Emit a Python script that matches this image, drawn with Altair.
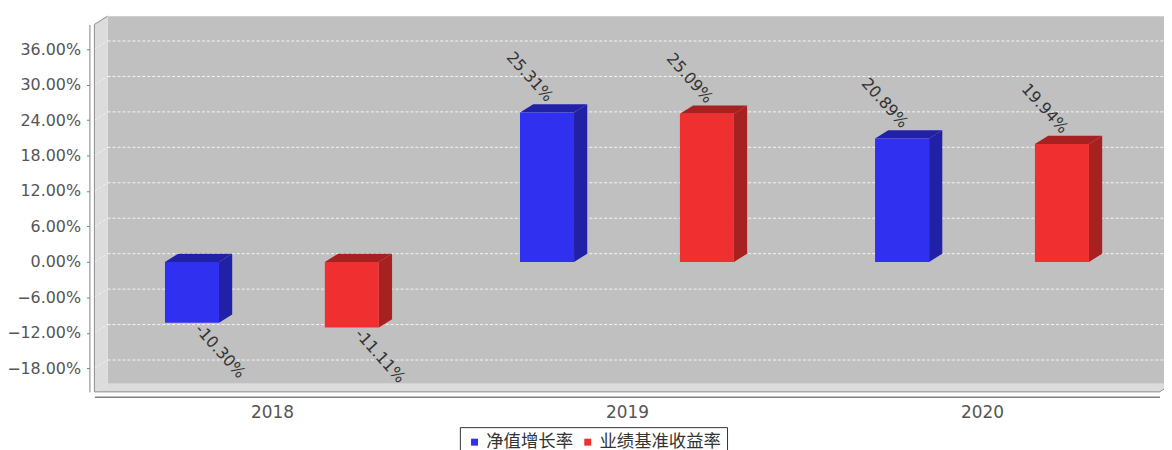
import altair as alt
import pandas as pd

# ---------------- data ----------------
years = ["2018", "2019", "2020"]
series = ["净值增长率", "业绩基准收益率"]
nav_growth = [-10.30, 25.31, 20.89]
benchmark = [-11.11, 25.09, 19.94]
y_ticks = [-18, -12, -6, 0, 6, 12, 18, 24, 30, 36]

front_colors = ["#3030F0", "#F03030"]
dark_colors = ["#2121A8", "#A82121"]

# ---------------- geometry (style) ----------------
W = 1072.5
H = 370
Y_MIN, Y_MAX = -22.0, 40.2
PX_X = W / len(years)
PX_Y = H / (Y_MAX - Y_MIN)
DX = 13.3 / PX_X          # 3D depth in x units
DY = 8.3 / PX_Y           # 3D depth in value units
GROUP_OFF = 80.5 / PX_X
HALF_W = 27.2 / PX_X
X_MAX = len(years)

FONT = "DejaVu Sans"
CJK = "Noto Sans CJK SC"

shade_keys = [s + " (shade)" for s in series]

rows, side_rows, top_rows = [], [], []
for si, (name, vals) in enumerate(zip(series, [nav_growth, benchmark])):
    shade = shade_keys[si]
    for yi, (yr, v) in enumerate(zip(years, vals)):
        xc = yi + 0.5 + (-GROUP_OFF if si == 0 else GROUP_OFF)
        x0, x1 = xc - HALF_W, xc + HALF_W
        top, bot = max(v, 0), min(v, 0)
        bar = f"{yr}-{si}"
        rows.append(dict(series=name, year=yr, bar=bar, value=v,
                         label=f"{v:.2f}%", xc=xc, x0=x0, x1=x1, top=top, bot=bot))
        side_rows += [dict(series=shade, bar=bar, x=x1, y=top, y2=bot),
                      dict(series=shade, bar=bar, x=x1 + DX, y=top + DY, y2=bot + DY)]
        top_rows += [dict(series=shade, bar=bar, y=top, x=x0, x2=x1),
                     dict(series=shade, bar=bar, y=top + DY, x=x0 + DX, x2=x1 + DX)]

bars = pd.DataFrame(rows)
sides = pd.DataFrame(side_rows)
tops = pd.DataFrame(top_rows)

xs = alt.Scale(domain=[0, X_MAX], nice=False, zero=False)
ys = alt.Scale(domain=[Y_MIN, Y_MAX], nice=False, zero=False)
cs = alt.Scale(domain=series + shade_keys, range=front_colors + dark_colors)
legend = alt.Legend(
    values=series, title=None, orient="none", legendX=368, legendY=405.5,
    direction="horizontal", strokeColor="#333333", fillColor="white",
    padding=6, symbolType="square", symbolSize=49, symbolStrokeWidth=0,
    labelFont=CJK, labelFontSize=17.5, labelColor="#333333",
    labelOffset=3, columnPadding=6)


def X(f, **kw):
    return alt.X(f, scale=xs, title=None, **kw)


def Y(f, **kw):
    return alt.Y(f, scale=ys, title=None, **kw)


def C():
    return alt.Color("series:N", scale=cs, legend=legend)


# ---------------- frame ----------------
back = alt.Chart(pd.DataFrame([dict(x=DX, x2=X_MAX + DX + 0.1, y=Y_MIN + DY, y2=Y_MAX + DY)])).mark_rect(
    color="#C0C0C0").encode(x=X("x:Q"), x2="x2:Q", y=Y("y:Q"), y2="y2:Q")

wall = alt.Chart(pd.DataFrame([dict(x=0, y=Y_MAX, y2=Y_MIN), dict(x=DX, y=Y_MAX + DY, y2=Y_MIN + DY)])).mark_area(
    color="#DCDCDC").encode(x=X("x:Q"), y=Y("y:Q", stack=None), y2="y2:Q")

floor = alt.Chart(pd.DataFrame([dict(y=Y_MIN, x=0, x2=X_MAX), dict(y=Y_MIN + DY, x=DX, x2=X_MAX + DX)])).mark_area(
    color="#DCDCDC", orient="horizontal").encode(y=Y("y:Q"), x=X("x:Q", stack=None), x2="x2:Q")

grid_df = pd.DataFrame(dict(v=y_ticks))
grid_back = alt.Chart(grid_df).transform_calculate(
    yb=f"datum.v + {DY}", xa=f"{DX}", xb=f"{X_MAX + DX + 0.1}").mark_rule(
    color="white", strokeDash=[3, 2], strokeWidth=1, opacity=0.85).encode(
    x=X("xa:Q"), x2="xb:Q", y=Y("yb:Q"))
grid_wall = alt.Chart(grid_df).transform_calculate(
    yb=f"datum.v + {DY}", xa="0", xb=f"{DX}").mark_rule(
    color="white", strokeDash=[3, 2], strokeWidth=1, opacity=0.6).encode(
    x=X("xa:Q"), x2="xb:Q", y=Y("v:Q"), y2="yb:Q")

edges = alt.Chart(pd.DataFrame([
    dict(x=0, x2=0, y=Y_MIN, y2=Y_MAX),
    dict(x=0, x2=X_MAX, y=Y_MIN, y2=Y_MIN),
    dict(x=0, x2=DX, y=Y_MAX, y2=Y_MAX + DY),
    dict(x=X_MAX, x2=X_MAX + DX, y=Y_MIN, y2=Y_MIN + DY),
])).mark_rule(color="#8C8C8C", strokeWidth=1).encode(
    x=X("x:Q"), x2="x2:Q", y=Y("y:Q"), y2="y2:Q")

# ---------------- bars ----------------
side_layer = alt.Chart(sides).mark_area(opacity=1).encode(
    x=X("x:Q"), y=Y("y:Q", stack=None), y2="y2:Q",
    detail="bar:N", color=C())
top_layer = alt.Chart(tops).mark_area(orient="horizontal", opacity=1).encode(
    y=Y("y:Q"), x=X("x:Q", stack=None), x2="x2:Q",
    detail="bar:N", color=C())

front = alt.Chart(bars).mark_rect(opacity=1).encode(
    x=X("x0:Q", axis=alt.Axis(
        values=[i + 0.5 for i in range(len(years))],
        labelExpr="[" + ",".join(f"'{y}'" for y in years) + "][floor(datum.value)]")),
    x2="x1:Q",
    y=Y("top:Q", axis=alt.Axis(
        values=y_ticks, labelExpr="format(datum.value, '.2f') + '%'")),
    y2="bot:Q",
    color=C())

label_pos = alt.Chart(bars).transform_filter("datum.value >= 0").mark_text(
    angle=48, align="right", baseline="middle", xOffset=3, yOffset=-13,
    font=FONT, fontSize=16, color="#333333").encode(
    x=X("xc:Q"), y=Y("value:Q"), text="label:N")
label_neg = alt.Chart(bars).transform_filter("datum.value < 0").mark_text(
    angle=48, align="left", baseline="middle", xOffset=6, yOffset=4,
    font=FONT, fontSize=16, color="#333333").encode(
    x=X("xc:Q"), y=Y("value:Q"), text="label:N")

chart = alt.layer(
    back, wall, floor, grid_back, grid_wall, edges,
    side_layer, top_layer, front, label_pos, label_neg
).properties(
    width=W, height=H,
    autosize=alt.AutoSizeParams(type="none"),
    padding={"left": 87, "top": 15, "right": 4.5, "bottom": 60},
    background="white",
).configure_view(stroke=None).configure_axisX(
    grid=False, ticks=False, tickSize=0, offset=5,
    domainColor="#808080", domainWidth=1.5,
    labelFont=FONT, labelFontSize=17, labelColor="#555555", labelPadding=8,
).configure_axisY(
    grid=False, offset=5, tickSize=3,
    domainColor="#808080", tickColor="#808080",
    labelFont=FONT, labelFontSize=16, labelColor="#555555", labelPadding=6,
)

chart.save("out.html", embed_options={"renderer": "svg", "actions": False})
